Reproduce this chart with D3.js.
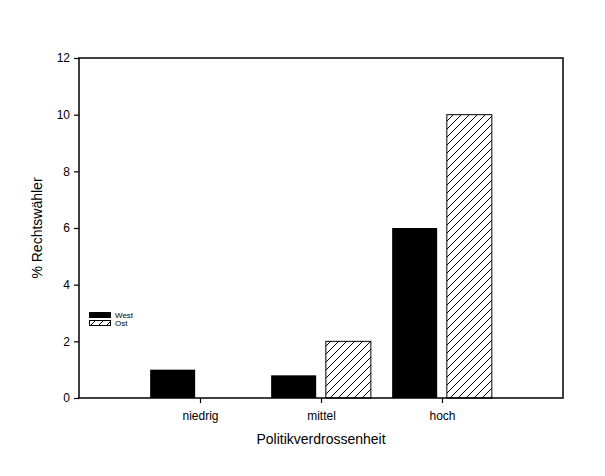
<!DOCTYPE html>
<html><head><meta charset="utf-8">
<script src="https://cdn.jsdelivr.net/npm/d3@7"></script>
<style>body{margin:0;background:#fff}svg{display:block}text{font-family:"Liberation Sans",Arial,sans-serif;fill:#000}</style>
</head><body>
<script>
const categories = ["niedrig", "mittel", "hoch"];
const seriesNames = ["West", "Ost"];
const westValues = [1, 0.8, 6];
const ostValues = [0, 2, 10];
const yTicks = [0, 2, 4, 6, 8, 10, 12];

const W = 605, H = 476;
const L = 79, R = 563, T = 58, B = 398;
const svg = d3.select("body").append("svg").attr("width", W).attr("height", H);

const defs = svg.append("defs");
const pat = defs.append("pattern").attr("id", "hatch").attr("patternUnits", "userSpaceOnUse")
  .attr("width", 8).attr("height", 8);
pat.append("rect").attr("width", 8).attr("height", 8).attr("fill", "#fff");
pat.append("path").attr("d", "M-2,2 L2,-2 M0,8 L8,0 M6,10 L10,6").attr("stroke", "#000").attr("stroke-width", 1);

const x = d3.scaleLinear().domain([0, categories.length + 1]).range([L, R]);
const y = d3.scaleLinear().domain([0, 12]).range([B, T]);
const bw = 0.372, gap = 0.04;

const data = categories.map((c, i) => ({c, i: i + 1, west: westValues[i], ost: ostValues[i]}));

// bars
svg.append("g").selectAll("rect").data(data).join("rect")
  .attr("x", d => x(d.i - gap - bw)).attr("width", x(bw) - x(0))
  .attr("y", d => y(d.west)).attr("height", d => y(0) - y(d.west))
  .attr("fill", "#000");
svg.append("g").selectAll("rect").data(data.filter(d => d.ost > 0)).join("rect")
  .attr("x", d => x(d.i + gap)).attr("width", x(bw) - x(0))
  .attr("y", d => y(d.ost)).attr("height", d => y(0) - y(d.ost))
  .attr("fill", "url(#hatch)").attr("stroke", "#000").attr("stroke-width", 1);

// frame
svg.append("rect").attr("x", L).attr("y", T).attr("width", R - L).attr("height", B - T)
  .attr("fill", "none").attr("stroke", "#000").attr("stroke-width", 1.5);

// y axis
const yAxis = d3.axisLeft(y).tickValues(yTicks).tickSize(5).tickPadding(4).tickFormat(d3.format("d"));
const gy = svg.append("g").attr("transform", `translate(${L},0)`).call(yAxis);
gy.select(".domain").remove();
gy.selectAll("line").attr("stroke-width", 1.2);
gy.selectAll("text").style("font-size", "12px").style("font-family", "Liberation Sans, Arial, sans-serif");

// x axis
const xAxis = d3.axisBottom(x).tickValues(data.map(d => d.i)).tickSize(5).tickPadding(8)
  .tickFormat((d, i) => categories[i]);
const gx = svg.append("g").attr("transform", `translate(0,${B})`).call(xAxis);
gx.select(".domain").remove();
gx.selectAll("line").attr("stroke-width", 1.2);
gx.selectAll("text").style("font-size", "12px").style("font-family", "Liberation Sans, Arial, sans-serif");

// titles
svg.append("text").attr("x", (L + R) / 2).attr("y", 444).attr("text-anchor", "middle")
  .style("font-size", "14px").text("Politikverdrossenheit");
svg.append("text").attr("transform", `translate(42,${(T + B) / 2}) rotate(-90)`).attr("text-anchor", "middle")
  .style("font-size", "14px").text("% Rechtswähler");

// legend
const lg = svg.append("g");
seriesNames.forEach((s, i) => {
  const yy = 312.5 + i * 8;
  lg.append("rect").attr("x", 89.5).attr("y", yy).attr("width", 21).attr("height", 5)
    .attr("fill", i === 0 ? "#000" : "url(#hatch)").attr("stroke", "#000").attr("stroke-width", 1);
  lg.append("text").attr("x", 115).attr("y", yy + 5).style("font-size", "8px").text(s);
});
</script>
</body></html>
